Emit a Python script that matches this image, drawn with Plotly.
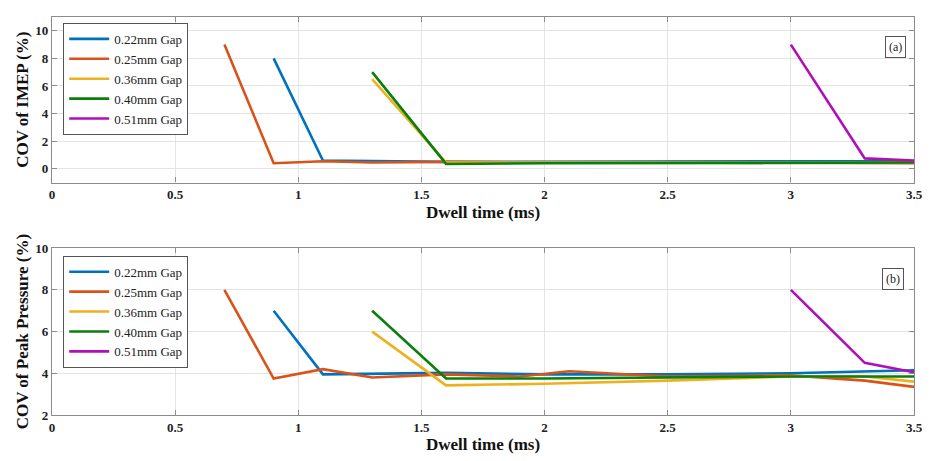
import plotly.graph_objects as go

# ---- data ----
gap_labels = ["0.22mm Gap", "0.25mm Gap", "0.36mm Gap", "0.40mm Gap", "0.51mm Gap"]
colors = ["#0072BD", "#D95319", "#EDB120", "#0A800A", "#B00EB8"]

# (a) COV of IMEP
imep_x_022 = [0.9, 1.1, 1.6, 2.0, 2.5, 3.0, 3.5]
imep_y_022 = [8.0, 0.6, 0.5, 0.5, 0.5, 0.5, 0.55]
imep_x_025 = [0.7, 0.9, 1.1, 1.3, 1.6, 2.0, 2.5, 3.0, 3.5]
imep_y_025 = [9.0, 0.4, 0.55, 0.45, 0.5, 0.45, 0.45, 0.45, 0.4]
imep_x_036 = [1.3, 1.6, 2.0, 2.5, 3.0, 3.5]
imep_y_036 = [6.5, 0.45, 0.45, 0.45, 0.45, 0.45]
imep_x_040 = [1.3, 1.6, 2.0, 2.5, 3.0, 3.5]
imep_y_040 = [7.0, 0.35, 0.4, 0.4, 0.45, 0.45]
imep_x_051 = [3.0, 3.3, 3.5]
imep_y_051 = [9.0, 0.75, 0.6]

# (b) COV of Peak Pressure
pp_x_022 = [0.9, 1.1, 1.6, 2.0, 2.5, 3.0, 3.5]
pp_y_022 = [7.0, 3.95, 4.02, 3.95, 3.95, 4.0, 4.15]
pp_x_025 = [0.7, 0.9, 1.1, 1.3, 1.6, 1.9, 2.1, 2.5, 3.0, 3.3, 3.5]
pp_y_025 = [8.0, 3.75, 4.2, 3.8, 3.95, 3.85, 4.1, 3.85, 3.9, 3.65, 3.35]
pp_x_036 = [1.3, 1.6, 2.0, 2.5, 3.0, 3.3, 3.5]
pp_y_036 = [6.0, 3.42, 3.5, 3.65, 3.85, 3.85, 3.6]
pp_x_040 = [1.3, 1.6, 2.0, 2.5, 3.0, 3.5]
pp_y_040 = [7.0, 3.75, 3.75, 3.8, 3.85, 3.85]
pp_x_051 = [3.0, 3.3, 3.5]
pp_y_051 = [8.0, 4.5, 4.05]

x_ticks = [0, 0.5, 1, 1.5, 2, 2.5, 3, 3.5]
x_tick_text = ["0", "0.5", "1", "1.5", "2", "2.5", "3", "3.5"]
imep_ticks = [0, 2, 4, 6, 8, 10]
pp_ticks = [2, 4, 6, 8, 10]

imep_series = [(imep_x_022, imep_y_022), (imep_x_025, imep_y_025), (imep_x_036, imep_y_036),
               (imep_x_040, imep_y_040), (imep_x_051, imep_y_051)]
pp_series = [(pp_x_022, pp_y_022), (pp_x_025, pp_y_025), (pp_x_036, pp_y_036),
             (pp_x_040, pp_y_040), (pp_x_051, pp_y_051)]

SERIF = "Liberation Serif"

fig = go.Figure()
for i, (xs, ys) in enumerate(imep_series):
    fig.add_trace(go.Scatter(x=xs, y=ys, mode="lines", name=gap_labels[i],
                             line=dict(color=colors[i], width=2.6),
                             xaxis="x", yaxis="y", legend="legend"))
for i, (xs, ys) in enumerate(pp_series):
    fig.add_trace(go.Scatter(x=xs, y=ys, mode="lines", name=gap_labels[i],
                             line=dict(color=colors[i], width=2.6),
                             xaxis="x2", yaxis="y2", legend="legend2"))

axis_common = dict(showgrid=True, gridcolor="#e4e4e4", gridwidth=1, showline=True,
                   linecolor="#8c8c8c", linewidth=1.2, mirror="ticks", ticks="inside",
                   ticklen=5, tickcolor="#8c8c8c", zeroline=False,
                   tickfont=dict(family=SERIF, size=13, color="#222"))

title_font = dict(family=SERIF, size=17, color="#111")

legend_common = dict(bgcolor="white", bordercolor="#555", borderwidth=1,
                     font=dict(family=SERIF, size=13, color="#222"),
                     xanchor="left", yanchor="top", itemwidth=40, tracegroupgap=0,
                     xref="paper", yref="paper")

bold = lambda vals: ["<b>%s</b>" % v for v in vals]

fig.update_layout(
    width=933, height=461,
    margin=dict(l=52, r=13, t=10, b=45),
    plot_bgcolor="white", paper_bgcolor="white",
    xaxis=dict(domain=[0, 1], range=[0, 3.5], tickvals=x_ticks, ticktext=bold(x_tick_text),
               anchor="y", title=dict(text="<b>Dwell time (ms)</b>", font=title_font, standoff=4),
               **axis_common),
    yaxis=dict(domain=[0.584, 1.0], range=[-1, 11], tickvals=imep_ticks,
               ticktext=bold(imep_ticks), anchor="x",
               title=dict(text="<b>COV of IMEP (%)</b>", font=title_font, standoff=2),
               **axis_common),
    xaxis2=dict(domain=[0, 1], range=[0, 3.5], tickvals=x_ticks, ticktext=bold(x_tick_text),
                anchor="y2", title=dict(text="<b>Dwell time (ms)</b>", font=title_font, standoff=4),
                **axis_common),
    yaxis2=dict(domain=[0, 0.419], range=[2, 10], tickvals=pp_ticks,
                ticktext=bold(pp_ticks), anchor="x2",
                title=dict(text="<b>COV of Peak Pressure (%)</b>", font=title_font, standoff=2),
                **axis_common),
    legend=dict(x=0.013, y=0.985, **legend_common),
    legend2=dict(x=0.013, y=0.40, **legend_common),
    annotations=[
        dict(text="(a)", xref="x domain", yref="y domain", x=0.991, y=0.82,
             xanchor="right", yanchor="middle", showarrow=False,
             font=dict(family=SERIF, size=12, color="#222"),
             bordercolor="#555", borderwidth=1, borderpad=3, bgcolor="white"),
        dict(text="(b)", xref="x2 domain", yref="y2 domain", x=0.988, y=0.815,
             xanchor="right", yanchor="middle", showarrow=False,
             font=dict(family=SERIF, size=12, color="#222"),
             bordercolor="#555", borderwidth=1, borderpad=3, bgcolor="white"),
    ],
)

fig.write_html("out.html", config={"displayModeBar": False},
               post_script="document.body.style.margin='0';document.body.style.overflow='hidden';")
